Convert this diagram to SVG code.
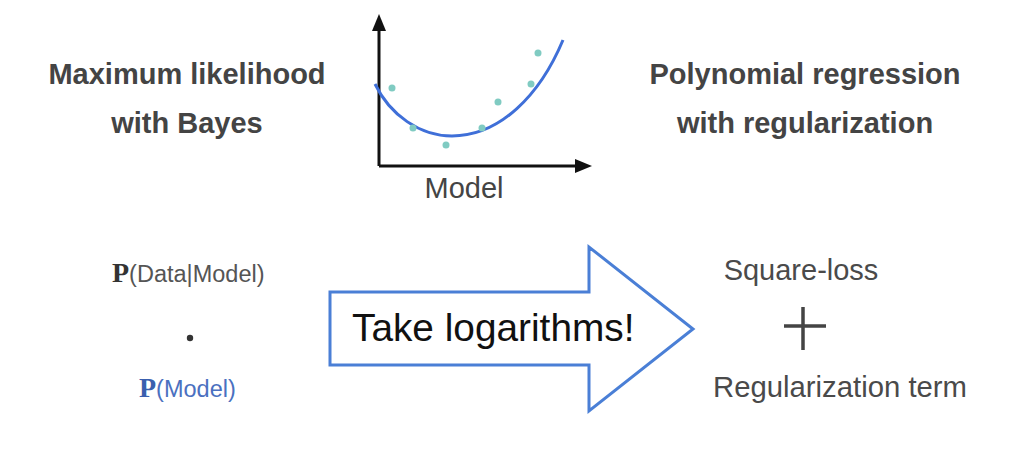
<svg xmlns="http://www.w3.org/2000/svg" width="1036" height="471" viewBox="0 0 1036 471">
  <defs>
    <style>
      .title { font-family: "Liberation Sans", Arial, sans-serif; font-weight: bold; font-size: 29px; fill: #444; text-anchor: middle; }
      .label { font-family: "Liberation Sans", Arial, sans-serif; font-size: 29px; fill: #4a4a4a; }
      .prob { font-family: "Liberation Sans", Arial, sans-serif; font-size: 23.5px; }
      .bigP { font-family: "Liberation Serif", "Times New Roman", serif; font-weight: bold; font-size: 28px; }
      .axis { stroke: #111; stroke-width: 3; fill: none; }
      .dot { fill: #80cbc2; }
    </style>
  </defs>
  <rect width="1036" height="471" fill="#fff"/>

  <g id="title-left">
    <text class="title" x="187" y="84">Maximum likelihood</text>
    <text class="title" x="187" y="133">with Bayes</text>
  </g>

  <g id="title-right">
    <text class="title" x="805" y="84">Polynomial regression</text>
    <text class="title" x="805" y="133">with regularization</text>
  </g>

  <g id="model-chart">
    <path class="axis" d="M379,166 L379,31"/>
    <path class="axis" d="M379,166 L575,166"/>
    <path d="M372,31 L379,14 L386,31 Z" fill="#111"/>
    <path d="M575,159 L592,166 L575,173 Z" fill="#111"/>
    <path d="M375,84 C390,115 420,136 452,136 C500,136 540,95 563,40" fill="none" stroke="#3f6fd8" stroke-width="3"/>
    <circle class="dot" cx="392" cy="88" r="3.5"/>
    <circle class="dot" cx="413" cy="128" r="3.5"/>
    <circle class="dot" cx="446" cy="145" r="3.5"/>
    <circle class="dot" cx="482" cy="128" r="3.5"/>
    <circle class="dot" cx="498" cy="102" r="3.5"/>
    <circle class="dot" cx="531" cy="84" r="3.5"/>
    <circle class="dot" cx="538" cy="53" r="3.5"/>
    <text class="label" x="464" y="198" text-anchor="middle" style="fill:#444">Model</text>
  </g>

  <g id="p-data-model">
    <text x="112" y="282"><tspan class="bigP" fill="#333">P</tspan><tspan class="prob" fill="#555">(Data|Model)</tspan></text>
  </g>

  <g id="product-dot">
    <circle cx="190" cy="338" r="3.2" fill="#333"/>
  </g>

  <g id="p-model">
    <text x="139" y="397"><tspan class="bigP" fill="#3a5fae">P</tspan><tspan class="prob" fill="#4a70c0">(Model)</tspan></text>
  </g>

  <g id="take-logarithms">
    <path d="M330,292 L589,292 L589,247 L693,329 L589,411 L589,365 L330,365 Z" fill="#fff" stroke="#4a7fd6" stroke-width="3" stroke-linejoin="miter"/>
    <text x="352" y="341" style="font-family:'Liberation Sans', Arial, sans-serif; font-size:38.8px; fill:#111">Take logarithms!</text>
  </g>

  <g id="square-loss">
    <text class="label" x="801" y="280" text-anchor="middle">Square-loss</text>
  </g>

  <g id="plus">
    <path d="M784,326 L826,326 M803,307 L803,350" stroke="#444" stroke-width="3.5" fill="none"/>
  </g>

  <g id="regularization-term">
    <text class="label" x="840" y="397" text-anchor="middle" style="font-size:29.3px">Regularization term</text>
  </g>

  <g id="connectors"></g>
</svg>
